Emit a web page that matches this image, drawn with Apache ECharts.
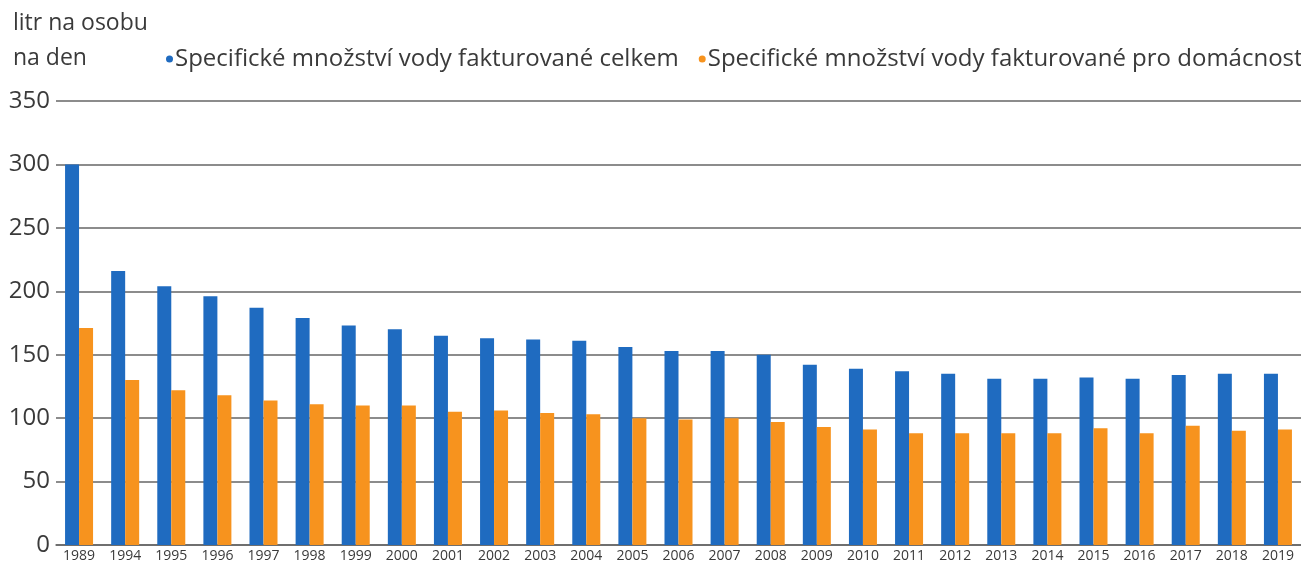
<!DOCTYPE html>
<html>
<head>
<meta charset="utf-8">
<style>
    html, body {
        margin: 0;
        padding: 0;
        background: #ffffff;
    }

    #main {
        width: 1301px;
        height: 564px;
    }
</style>
</head>
<body>
<div id="main"></div>
<script src="https://cdn.jsdelivr.net/npm/echarts@6/dist/echarts.min.js"></script>
<script>
    // roky
    var years = ['1989', '1994', '1995', '1996', '1997', '1998', '1999', '2000', '2001', '2002',
        '2003', '2004', '2005', '2006', '2007', '2008', '2009', '2010', '2011', '2012',
        '2013', '2014', '2015', '2016', '2017', '2018', '2019'];

    // voda fakturovaná celkem
    var celkem = [300, 216, 204, 196, 187, 179, 173, 170, 165, 163,
        162, 161, 156, 153, 153, 150, 142, 139, 137, 135,
        131, 131, 132, 131, 134, 135, 135];

    // voda fakturovaná pro domácnosti
    var domacnosti = [171, 130, 122, 118, 114, 111, 110, 110, 105, 106,
        104, 103, 100, 99, 100, 97, 93, 91, 88, 88,
        88, 88, 92, 88, 94, 90, 91];

    var seriesNames = ['Specifické množství vody fakturované celkem',
        'Specifické množství vody fakturované pro domácnosti'];

    var fontFamily = '"Open Sans", "Noto Sans", sans-serif';

    var myChart = echarts.init(document.getElementById('main'));

    var option = {
        animation: false,
        backgroundColor: '#ffffff',
        textStyle: {
            fontFamily: fontFamily
        },
        title: {
            text: 'litr na osobu\nna den',
            left: 8,
            top: 1,
            textStyle: {
                fontSize: 23,
                fontWeight: 'normal',
                color: '#3a3a3a',
                lineHeight: 35,
                fontFamily: fontFamily
            }
        },
        // legenda je vpravo useknutá jako v předloze
        legend: {
            left: 161,
            top: 42,
            width: 1400,
            icon: 'circle',
            itemWidth: 7,
            itemHeight: 7,
            itemGap: 20,
            textStyle: {
                fontSize: 24,
                color: '#3a3a3a',
                padding: [0, 0, 0, -3],
                fontFamily: fontFamily
            },
            data: seriesNames
        },
        grid: {
            left: 56,
            top: 101,
            width: 1250,
            height: 444,
            containLabel: false
        },
        xAxis: {
            type: 'category',
            data: years,
            axisTick: {show: false},
            axisLine: {
                lineStyle: {color: '#666666', width: 1.5}
            },
            axisLabel: {
                fontSize: 14,
                color: '#3a3a3a',
                margin: 4,
                interval: 0,
                fontFamily: fontFamily
            }
        },
        yAxis: {
            type: 'value',
            min: 0,
            max: 350,
            interval: 50,
            axisLine: {show: false},
            axisTick: {show: false},
            axisLabel: {
                fontSize: 24,
                color: '#3a3a3a',
                margin: 6,
                fontFamily: fontFamily
            },
            splitLine: {
                lineStyle: {color: '#666666', width: 1.5}
            }
        },
        series: [
            {
                name: seriesNames[0],
                type: 'bar',
                data: celkem,
                barWidth: 14,
                barGap: '0%',
                itemStyle: {color: '#1f6bc0'}
            },
            {
                name: seriesNames[1],
                type: 'bar',
                data: domacnosti,
                barWidth: 14,
                itemStyle: {color: '#f7931e'}
            }
        ]
    };

    myChart.setOption(option);
</script>
</body>
</html>
